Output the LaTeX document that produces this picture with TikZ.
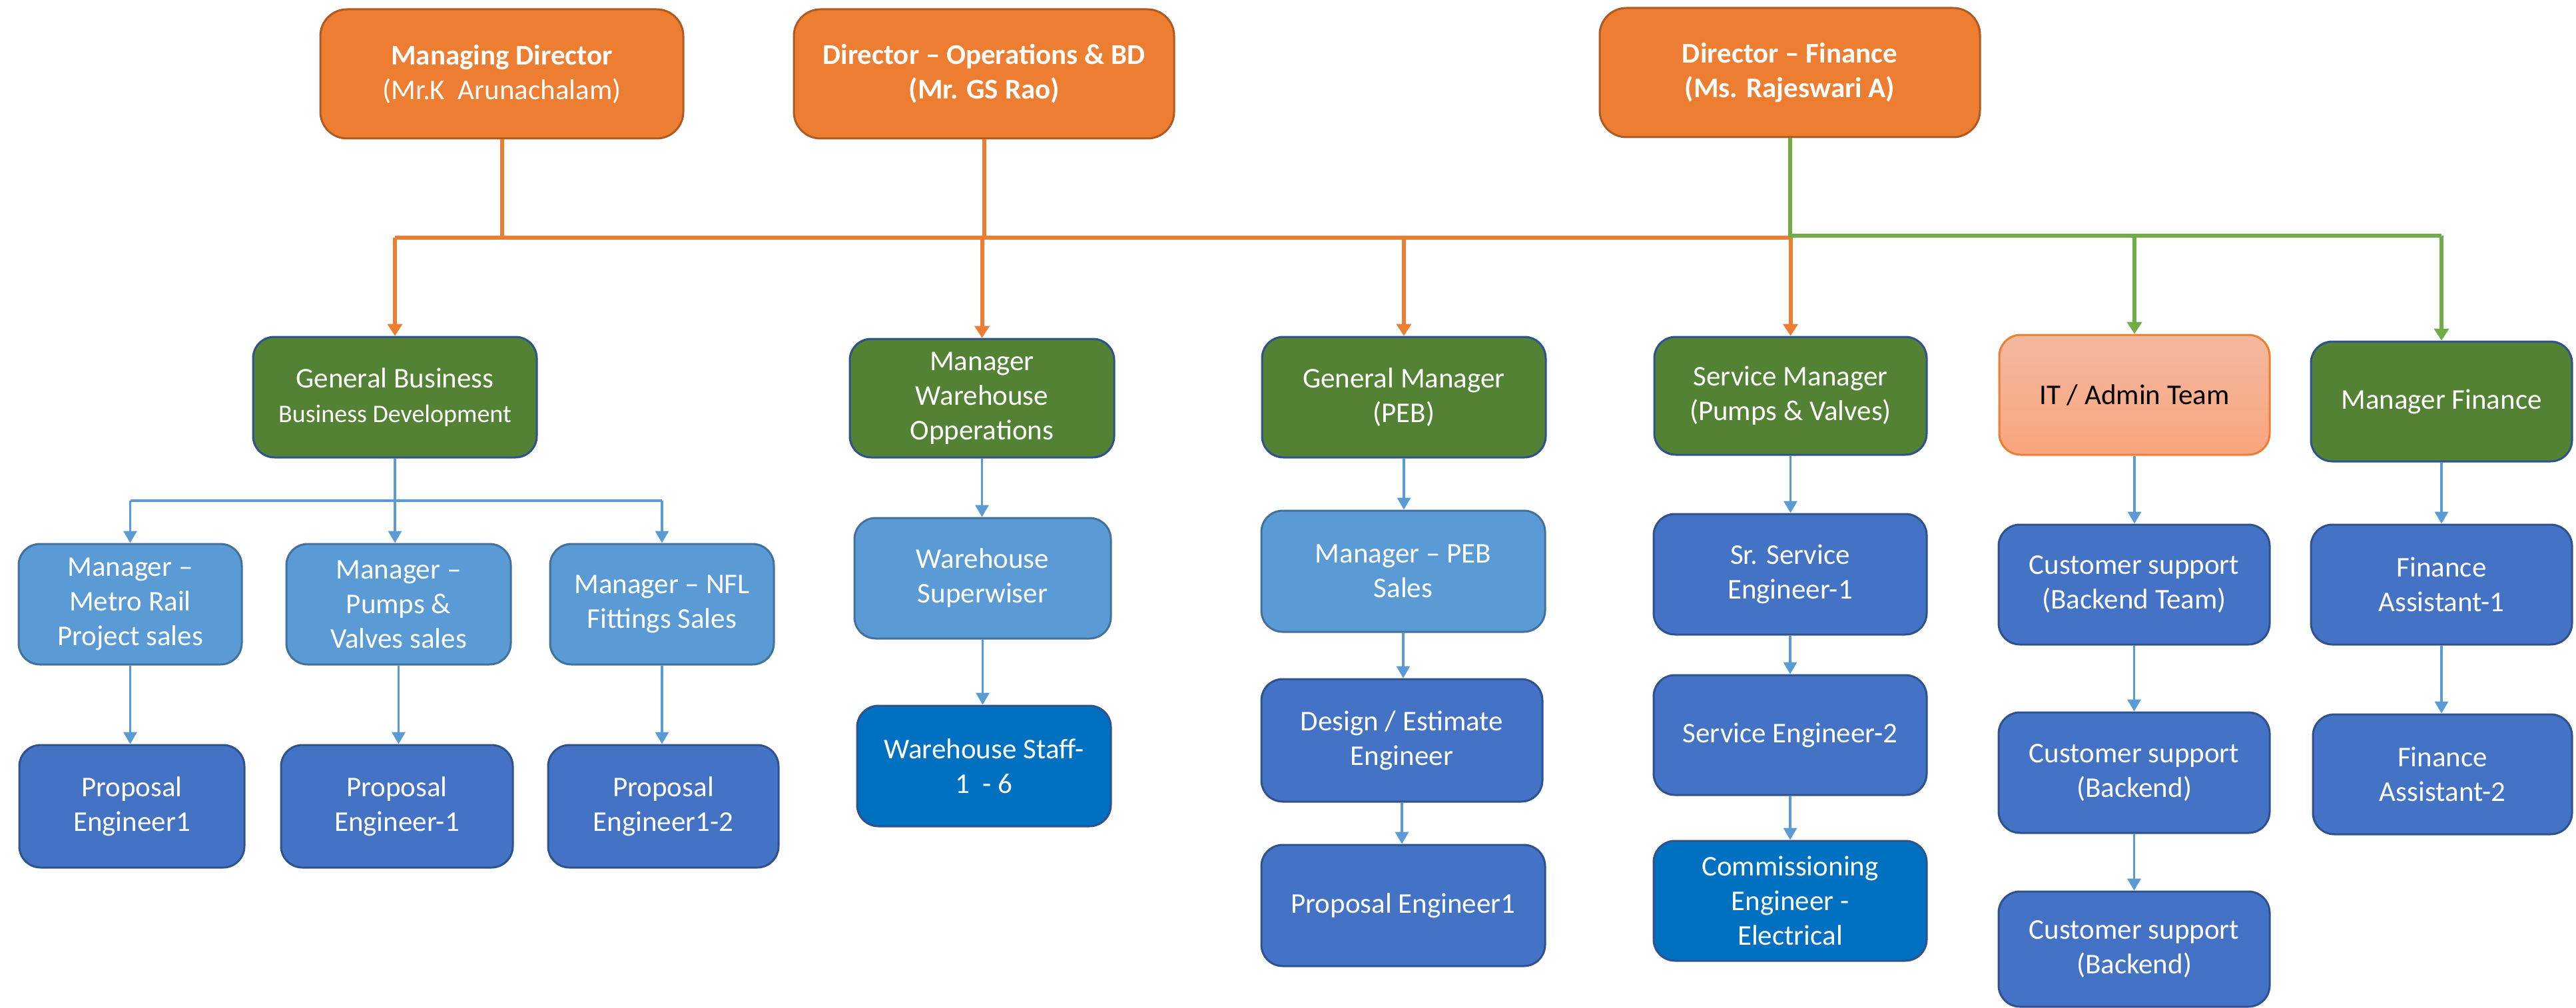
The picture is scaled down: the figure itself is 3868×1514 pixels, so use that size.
\documentclass[tikz,border=0pt]{standalone}
\usepackage{fontspec}
\setmainfont{Carlito}
\usetikzlibrary{arrows.meta}
\definecolor{orgF}{HTML}{ED7D31}
\definecolor{orgD}{HTML}{AE5A21}
\definecolor{grnF}{HTML}{548235}
\definecolor{bdrB}{HTML}{2F528F}
\definecolor{lbF}{HTML}{5B9BD5}
\definecolor{lbD}{HTML}{41719C}
\definecolor{mbF}{HTML}{4472C4}
\definecolor{dbF}{HTML}{0070C0}
\definecolor{lineG}{HTML}{70AD47}
\definecolor{itT}{HTML}{F4B89F}
\definecolor{itB}{HTML}{F8A57E}
\tikzset{
  sz/.style 2 args={minimum width=#1*0.5pt, minimum height=#2*0.5pt},
  base/.style={rounded corners=16pt, line width=1.5pt, align=center, inner sep=2pt,
     text=white, font=\fontsize{21.5}{26}\selectfont},
  topbox/.style={base, rounded corners=20pt, fill=orgF, draw=orgD, font=\fontsize{21.5}{26}\selectfont\bfseries},
  grnbox/.style={base, fill=grnF, draw=bdrB},
  itbox/.style={base, top color=itT, bottom color=itB, draw=orgF, text=black},
  lbbox/.style={base, fill=lbF, draw=lbD},
  mbbox/.style={base, fill=mbF, draw=bdrB},
  dbbox/.style={base, fill=dbF, draw=bdrB},
  oline/.style={draw=orgF, line width=3pt},
  gline/.style={draw=lineG, line width=3pt},
  bline/.style={draw=lbF, line width=1.8pt},
  otip/.style={-{Triangle[width=11pt,length=9pt]}},
  btip/.style={-{Triangle[width=10pt,length=9pt]}}
}
\begin{document}
\begin{tikzpicture}[x=0.5pt,y=-0.5pt]
\useasboundingbox[fill=white] (0,0) rectangle (3868,1514);

% top row
\node[topbox, sz={545}{194}] (md) at (753.5,111) {Managing Director\\{\mdseries(Mr.K\ \ Arunachalam)}};
\node[topbox, sz={571}{194}] (ops) at (1477.5,111) {Director -- Operations \& BD\\(Mr. GS Rao)};
\node[topbox, sz={571}{194}] (fin) at (2687.5,109) {Director -- Finance\\(Ms. Rajeswari A)};

% second row
\node[grnbox, sz={426}{181}] (gbbd) at (593,596.5) {General Business\\{\fontsize{19}{23}\selectfont Business Development}};
\node[grnbox, sz={397}{178}] (mwo) at (1474.5,598) {Manager\\Warehouse\\Opperations};
\node[grnbox, sz={426}{181}] (gm) at (2108,596.5) {General Manager\\(PEB)};
\node[grnbox, sz={409}{177}] (sm) at (2688.5,594.5) {Service Manager\\(Pumps \& Valves)};
\node[itbox, sz={406}{180}] (it) at (3205,593) {IT / Admin Team};
\node[grnbox, sz={392}{180}] (mf) at (3666,603) {Manager Finance};

% BD column
\node[lbbox, sz={335}{181}] (metro) at (195.5,907.5) {Manager --\\Metro Rail\\Project sales};
\node[lbbox, sz={337}{181}] (pumps) at (598.5,907.5) {Manager --\\Pumps \&\\Valves sales};
\node[lbbox, sz={336}{181}] (nfl) at (994,907.5) {Manager -- NFL\\Fittings Sales};
\node[mbbox, sz={338}{184}] (pe1) at (198,1211) {Proposal\\Engineer1};
\node[mbbox, sz={348}{184}] (pe2) at (596,1211) {Proposal\\Engineer-1};
\node[mbbox, sz={346}{184}] (pe3) at (996,1211) {Proposal\\Engineer1-2};

% warehouse column
\node[lbbox, sz={385}{181}] (ws) at (1475.5,868.5) {Warehouse\\Superwiser};
\node[dbbox, sz={381}{181}] (staff) at (1477.5,1150.5) {Warehouse Staff-\\1\ \ - 6};

% PEB column
\node[lbbox, sz={426}{182}] (mpeb) at (2107,858) {Manager -- PEB\\Sales};
\node[mbbox, sz={422}{184}] (design) at (2105,1112) {Design / Estimate\\Engineer};
\node[mbbox, sz={426}{182}] (prop) at (2107,1360) {Proposal Engineer1};

% service column
\node[mbbox, sz={410}{181}] (sse) at (2688,862.5) {Sr. Service\\Engineer-1};
\node[mbbox, sz={410}{180}] (se2) at (2688,1104) {Service Engineer-2};
\node[dbbox, sz={410}{180}] (comm) at (2688,1353) {Commissioning\\Engineer -\\Electrical};

% IT column
\node[mbbox, sz={407}{180}] (cs1) at (3204.5,878) {Customer support\\(Backend Team)};
\node[mbbox, sz={407}{181}] (cs2) at (3204.5,1160.5) {Customer support\\(Backend)};
\node[mbbox, sz={407}{173}] (cs3) at (3204.5,1425.5) {Customer support\\(Backend)};

% finance column
\node[mbbox, sz={392}{180}] (fa1) at (3666,878) {Finance\\Assistant-1};
\node[mbbox, sz={389}{180}] (fa2) at (3667.5,1163) {Finance\\Assistant-2};

% buses
\coordinate (obus) at (0,357);
\coordinate (gbus) at (0,354);
\coordinate (bbus) at (0,752);

% orange connectors
\draw[oline] (md.south) -- (md.south|-obus);
\draw[oline] (ops.south) -- (ops.south|-obus);
\draw[oline] (gbbd.north|-obus) -- (sm.north|-obus);
\draw[oline,otip] (gbbd.north|-obus) -- (gbbd.north);
\draw[oline,otip] (mwo.north|-obus) -- (mwo.north);
\draw[oline,otip] (gm.north|-obus) -- (gm.north);
\draw[oline,otip] (sm.north|-obus) -- (sm.north);

% green connectors
\draw[gline] (fin.south) -- (fin.south|-gbus) -- (mf.north|-gbus);
\draw[gline,otip] (it.north|-gbus) -- (it.north);
\draw[gline,otip] (mf.north|-gbus) -- (mf.north);

% blue connectors
\draw[bline] (gbbd.south) -- (gbbd.south|-bbus);
\draw[bline] (metro.north|-bbus) -- (nfl.north|-bbus);
\draw[bline,btip] (metro.north|-bbus) -- (metro.north);
\draw[bline,btip] (gbbd.south|-bbus) -- (gbbd.south|-pumps.north);
\draw[bline,btip] (nfl.north|-bbus) -- (nfl.north);
\draw[bline,btip] (metro.south) -- (metro.south|-pe1.north);
\draw[bline,btip] (pumps.south) -- (pumps.south|-pe2.north);
\draw[bline,btip] (nfl.south) -- (nfl.south|-pe3.north);

\draw[bline,btip] (mwo.south) -- (mwo.south|-ws.north);
\draw[bline,btip] (ws.south) -- (ws.south|-staff.north);

\draw[bline,btip] (gm.south) -- (gm.south|-mpeb.north);
\draw[bline,btip] (mpeb.south) -- (mpeb.south|-design.north);
\draw[bline,btip] (design.south) -- (design.south|-prop.north);

\draw[bline,btip] (sm.south) -- (sm.south|-sse.north);
\draw[bline,btip] (sse.south) -- (sse.south|-se2.north);
\draw[bline,btip] (se2.south) -- (se2.south|-comm.north);

\draw[bline,btip] (it.south) -- (it.south|-cs1.north);
\draw[bline,btip] (cs1.south) -- (cs1.south|-cs2.north);
\draw[bline,btip] (cs2.south) -- (cs2.south|-cs3.north);

\draw[bline,btip] (mf.south) -- (mf.south|-fa1.north);
\draw[bline,btip] (fa1.south) -- (fa1.south|-fa2.north);
\end{tikzpicture}
\end{document}
